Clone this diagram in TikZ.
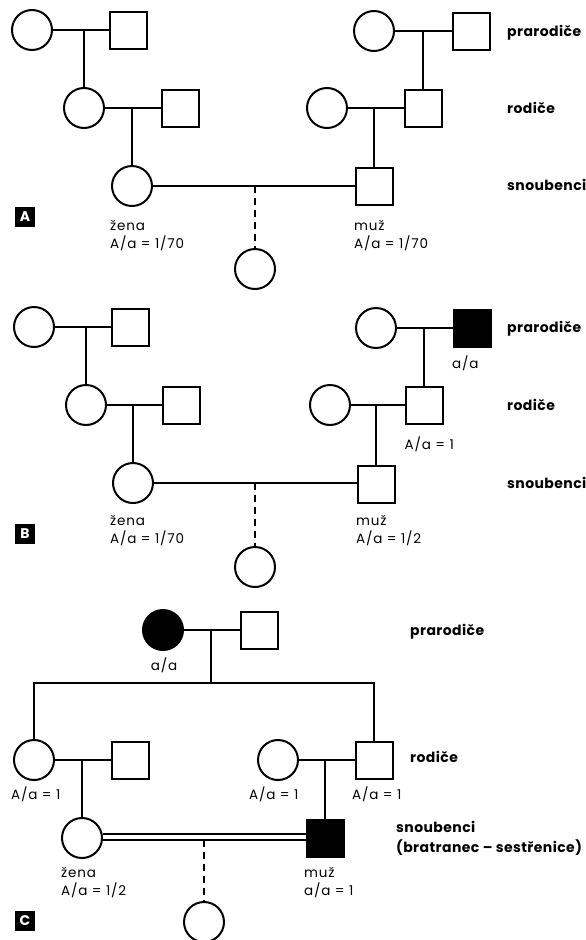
\documentclass[tikz,border=0pt]{standalone}
\usepackage{fontspec}
\setmainfont{Poppins}
\begin{document}
\begin{tikzpicture}[x=1pt,y=-1pt,
  fem/.style={circle,draw,line width=2pt,minimum size=40pt,inner sep=0pt},
  mal/.style={rectangle,draw,line width=2pt,minimum size=37pt,inner sep=0pt},
  aff/.style={fill=black},
  lnk/.style={line width=2pt},
  dsh/.style={line width=2pt,dash pattern=on 7pt off 5pt},
  gen/.style={font=\fontsize{13.5}{15}\selectfont\addfontfeatures{LetterSpace=6},anchor=west,inner sep=0pt},
  lvl/.style={font=\bfseries\fontsize{14}{16}\selectfont\addfontfeatures{LetterSpace=3},anchor=west,inner sep=0pt,align=left},
  tag/.style={fill=black,text=white,font=\bfseries\fontsize{14}{14}\selectfont,minimum size=20pt,inner sep=0pt}]
\useasboundingbox (0,0) rectangle (586,940);

% ---------------- Panel A ----------------
\node[fem] (a1) at (32,30) {};
\node[mal] (a2) at (128,30) {};
\node[fem] (a3) at (84,108) {};
\node[mal] (a4) at (180,108) {};
\node[fem] (a5) at (132,186) {};
\node[fem] (a6) at (374,31) {};
\node[mal] (a7) at (471,31) {};
\node[fem] (a8) at (327,108) {};
\node[mal] (a9) at (423,108) {};
\node[mal] (a10) at (374,186) {};
\node[fem] (a11) at (255,269) {};
\draw[lnk] (a1.east) -- (a2.west);
\draw[lnk] (a3.east) -- (a4.west);
\draw[lnk] (a5.east) -- (a10.west);
\draw[lnk] (a6.east) -- (a7.west);
\draw[lnk] (a8.east) -- (a9.west);
\draw[lnk] (a3.north) -- (a3.north |- a1.east);
\draw[lnk] (a5.north) -- (a5.north |- a3.east);
\draw[lnk] (a9.north) -- (a9.north |- a6.east);
\draw[lnk] (a10.north) -- (a10.north |- a8.east);
\draw[dsh] (a11.north |- a5.east) -- (a11.north);
\node[gen] (at1) at (110,225) {žena};
\node[gen] (at2) at (110,243) {A/a = 1/70};
\node[gen] (at3) at (354,225) {muž};
\node[gen] (at4) at (354,243) {A/a = 1/70};
\node[lvl] (al1) at (507,33) {prarodiče};
\node[lvl] (al2) at (507,108) {rodiče};
\node[lvl] (al3) at (507,185) {snoubenci};
\node[tag] (atag) at (25,217) {A};

% ---------------- Panel B ----------------
\node[fem] (b1) at (34,327) {};
\node[mal] (b2) at (130,327) {};
\node[fem] (b3) at (86,405) {};
\node[mal] (b4) at (181,405) {};
\node[fem] (b5) at (133,483) {};
\node[fem] (b6) at (376,328) {};
\node[mal,aff] (b7) at (472,328) {};
\node[fem] (b8) at (330,405) {};
\node[mal] (b9) at (424,405) {};
\node[mal] (b10) at (376,484) {};
\node[fem] (b11) at (255,567) {};
\draw[lnk] (b1.east) -- (b2.west);
\draw[lnk] (b3.east) -- (b4.west);
\draw[lnk] (b5.east) -- (b5.east -| b10.west);
\draw[lnk] (b6.east) -- (b7.west);
\draw[lnk] (b8.east) -- (b9.west);
\draw[lnk] (b3.north) -- (b3.north |- b1.east);
\draw[lnk] (b5.north) -- (b5.north |- b3.east);
\draw[lnk] (b9.north) -- (b9.north |- b6.east);
\draw[lnk] (b10.north) -- (b10.north |- b8.east);
\draw[dsh] (b11.north |- b5.east) -- (b11.north);
\node[gen] (bt0) at (452,363) {a/a};
\node[gen] (bt5) at (404.5,444) {A/a = 1};
\node[gen] (bt1) at (110,520) {žena};
\node[gen] (bt2) at (110,538) {A/a = 1/70};
\node[gen] (bt3) at (356,520) {muž};
\node[gen] (bt4) at (356,538) {A/a = 1/2};
\node[lvl] (bl1) at (507,329) {prarodiče};
\node[lvl] (bl2) at (507,405) {rodiče};
\node[lvl] (bl3) at (507,483) {snoubenci};
\node[tag] (btag) at (25,534) {B};

% ---------------- Panel C ----------------
\node[fem,aff] (c1) at (163,630) {};
\node[mal] (c2) at (259,630) {};
\coordinate (csib) at (211,683);
\node[fem] (c3) at (34,760) {};
\node[mal] (c4) at (130,760) {};
\node[fem] (c5) at (278,760) {};
\node[mal] (c6) at (374,760) {};
\node[fem] (c7) at (82,838) {};
\node[mal,aff] (c8) at (325,838) {};
\node[fem] (c9) at (204,922) {};
\draw[lnk] (c1.east) -- (c2.west);
\draw[lnk] (csib) -- (csib |- c1.east);
\draw[lnk] (c3.north) |- (csib) -| (c6.north);
\draw[lnk] (c3.east) -- (c4.west);
\draw[lnk] (c5.east) -- (c6.west);
\draw[lnk] (c7.north) -- (c7.north |- c3.east);
\draw[lnk] (c8.north) -- (c8.north |- c5.east);
\draw[lnk] ([yshift=4pt]c7.east) -- ([yshift=4pt]c7.east -| c8.west);
\draw[lnk] ([yshift=-2pt]c7.east) -- ([yshift=-2pt]c7.east -| c8.west);
\draw[dsh] (c9.north |- c7.east) ++(0,2) -- (c9.north);
\node[gen,anchor=center] (ct0) at (164,665) {a/a};
\node[gen] (ct1) at (11,794) {A/a = 1};
\node[gen] (ct2) at (249,794) {A/a = 1};
\node[gen] (ct3) at (352,794) {A/a = 1};
\node[gen] (ct4) at (61,872) {žena};
\node[gen] (ct5) at (61,890) {A/a = 1/2};
\node[gen] (ct6) at (304,872) {muž};
\node[gen] (ct7) at (304,890) {a/a = 1};
\node[lvl] (cl1) at (410,632) {prarodiče};
\node[lvl] (cl2) at (410,757) {rodiče};
\node[lvl] (cl3) at (396,827) {snoubenci};
\node[lvl] (cl4) at (396,848) {(bratranec – sestřenice)};
\node[tag] (ctag) at (25,921) {C};
\end{tikzpicture}
\end{document}
